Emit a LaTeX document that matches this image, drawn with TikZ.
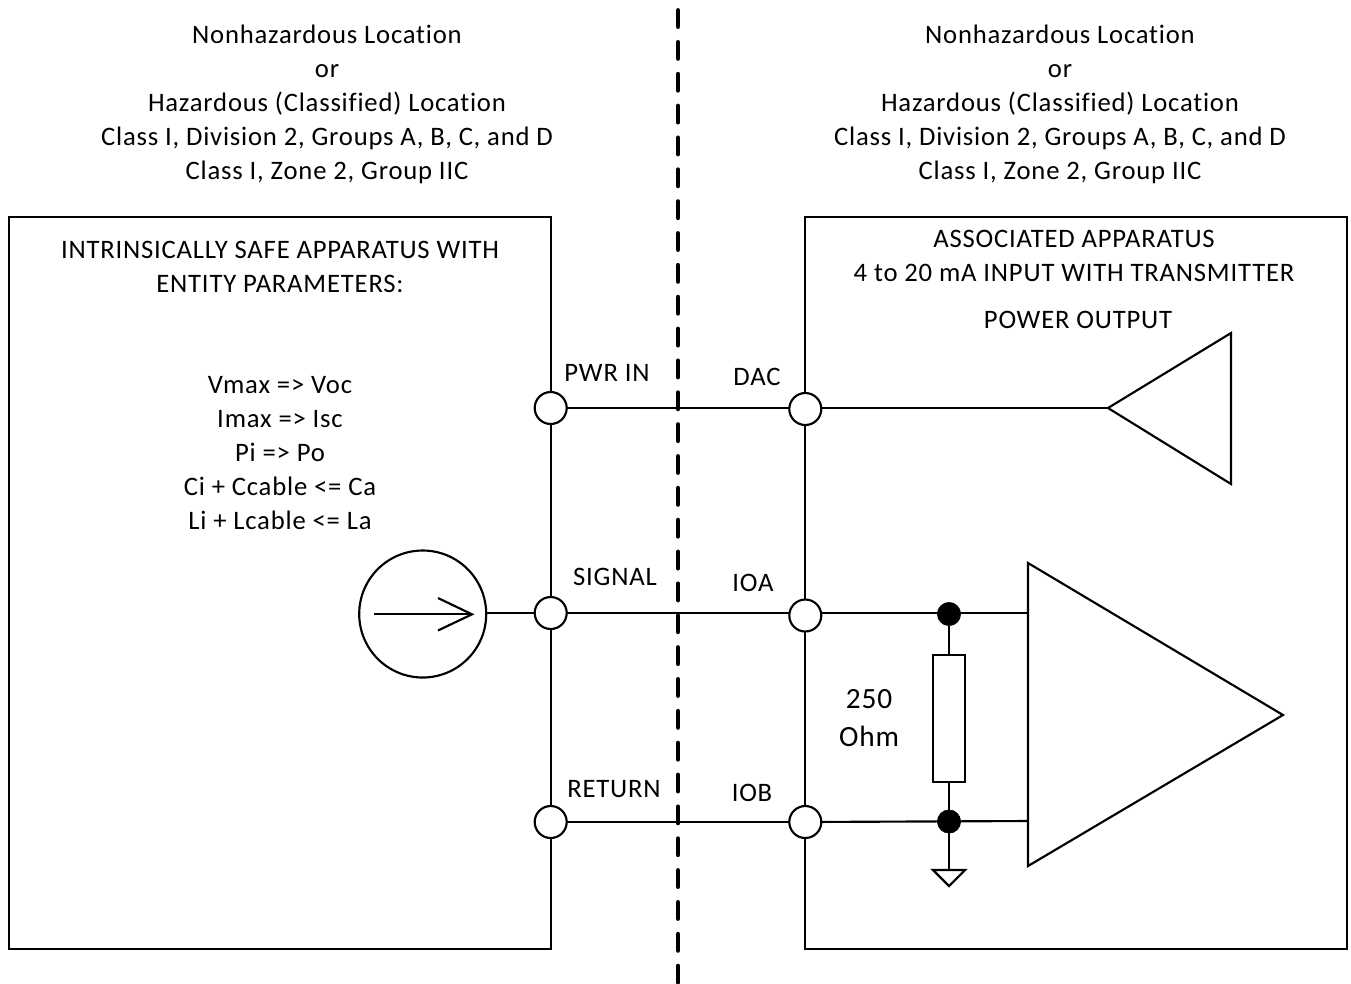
\documentclass[tikz,border=0pt]{standalone}
\usepackage{fontspec}
\setmainfont[LetterSpace=3,Ligatures=CommonOff]{Carlito}
\usetikzlibrary{calc}
\tikzset{
 x=0.75pt,y=-0.75pt,
 wire/.style={line width=1.6pt,draw=black},
 term/.style={circle,draw=black,fill=white,line width=1.6pt,minimum size=24pt,inner sep=0pt,outer sep=0pt},
 dotj/.style={circle,fill=black,draw=black,minimum size=17.5pt,inner sep=0pt,outer sep=0pt},
 lbl/.style={font=\fontsize{20}{25.5}\selectfont,align=center,inner sep=0pt,text=black},
 big/.style={font=\fontsize{22}{28.5}\selectfont,align=center,inner sep=0pt,text=black},
}
\begin{document}
\begin{tikzpicture}[line join=miter]
\useasboundingbox (0,0) rectangle (1351,983);
\fill[white] (0,0) rectangle (1351,983);
% divider
\coordinate (dt) at (678,10.4); \coordinate (db) at (678,983);
\draw[line width=3.5pt,line cap=round,dash pattern=on 12.2pt off 11.69pt] (dt) -- (db);
% boxes
\node[draw,line width=1.6pt,minimum width=406.5pt,minimum height=549pt,inner sep=0pt,outer sep=0pt,anchor=north west] (lbox) at (9,217) {};
\node[draw,line width=1.6pt,minimum width=406.5pt,minimum height=549pt,inner sep=0pt,outer sep=0pt,anchor=north west] (rbox) at (805,217) {};
% location text
\node[lbl,anchor=center] (ltext) at (327,104) {Nonhazardous Location\\or\\Hazardous (Classified) Location\\Class I, Division 2, Groups A, B, C, and D\\Class I, Zone 2, Group IIC};
\node[lbl,anchor=center] (rtext) at (1060,104) {Nonhazardous Location\\or\\Hazardous (Classified) Location\\Class I, Division 2, Groups A, B, C, and D\\Class I, Zone 2, Group IIC};
\node[lbl] (ltitle) at (280,266.5) {INTRINSICALLY SAFE APPARATUS WITH\\ENTITY PARAMETERS:};
\node[lbl] (rtitle) at (1074,256) {ASSOCIATED APPARATUS\\4 to 20 mA INPUT WITH TRANSMITTER};
\node[lbl] (pout) at (1078,320) {POWER OUTPUT};
\node[lbl] (params) at (280,453.5) {Vmax => Voc\\Imax => Isc\\Pi => Po\\Ci + Ccable <= Ca\\Li + Lcable <= La};
% terminals
\node[term] (t1) at (550.7,408) {};
\node[term] (t2) at (550.7,613) {};
\node[term] (t3) at (550.7,822) {};
\node[term] (t4) at (805.3,409) {};
\node[term] (t5) at (805.3,615.5) {};
\node[term] (t6) at (805.3,822) {};
\draw[wire] (t1) -- (t4.west |- t1);
\draw[wire] (t2) -- (t5.west |- t2);
\draw[wire] (t3) -- (t6);
\node[lbl] (l1) at (607,373) {PWR IN};
\node[lbl] (l2) at (615,577) {SIGNAL};
\node[lbl] (l3) at (614,789) {RETURN};
\node[lbl] (l4) at (757,377) {DAC};
\node[lbl] (l5) at (753,583) {IOA};
\node[lbl] (l6) at (752,793) {IOB};
% source
\node[circle,draw,line width=1.6pt,minimum size=95.25pt,inner sep=0pt,outer sep=0pt] (src) at (422.7,614) {};
\draw[wire] (src.east |- t2) -- (t2);
\coordinate (al) at (374,614.3); \coordinate (ar) at (472,614.3);
\draw[wire] (al) -- (ar);
\draw[wire] (438,598) -- (ar) -- (438,630.5);
% output triangle
\coordinate (o1) at (1231,333); \coordinate (o2) at (1231,484); \coordinate (o3) at (1108,408);
\draw[wire] (o1) -- (o2) -- (o3) -- cycle;
\draw[wire] (t4.east |- o3) -- (o3);
% amp
\coordinate (a1) at (1028,563); \coordinate (a2) at (1028,866); \coordinate (a3) at (1283,715);
\draw[wire] (a1) -- (a2) -- (a3) -- cycle;
\coordinate (ai1) at (1028,613); \coordinate (ai2) at (1028,821);
\node[dotj] (j1) at (949,614) {};
\node[dotj] (j2) at (949,821.5) {};
\draw[wire] (t5.east |- ai1) -- (ai1);
\draw[wire] (t6) -- (ai2);
\node[draw,line width=1.6pt,minimum width=24pt,minimum height=95.25pt,inner sep=0pt,outer sep=0pt,fill=white] (res) at (949,718.5) {};
\draw[wire] (j1) -- (res);
\draw[wire] (res) -- (j2);
\node[big] (rv) at (869,718.5) {250\\Ohm};
% ground
\coordinate (g) at (949,870);
\draw[wire] (j2) -- (g);
\draw[wire] (933,870) -- (965,870) -- (949,886) -- cycle;
\end{tikzpicture}
\end{document}
